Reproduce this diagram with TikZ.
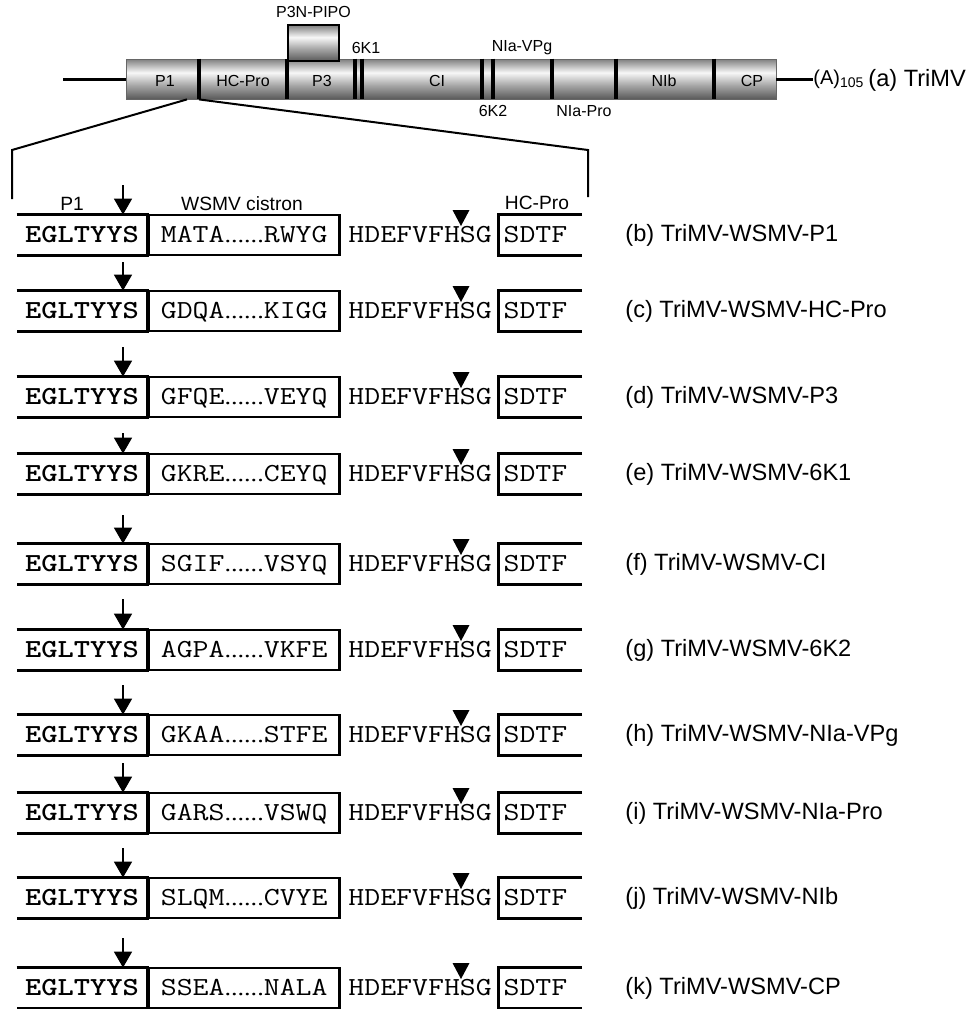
\documentclass[tikz,border=0pt]{standalone}
\usepackage{fontspec}
\setmainfont{Liberation Sans}
\newfontfamily\dotfont{Liberation Serif}
\usetikzlibrary{arrows.meta,positioning}

\pgfdeclareverticalshading{tube}{100bp}{color(0bp)=(black!65); color(25bp)=(black!65); color(42bp)=(black!35); color(58bp)=(black!3); color(75bp)=(black!50); color(100bp)=(black!50)}
\newcommand{\seqdots}{{\dotfont\fontsize{11}{13}\selectfont......}}
\newcommand{\seqtxt}[1]{\scalebox{1.19}[1]{#1}}

\begin{document}
\begin{tikzpicture}[x=0.5pt, y=-0.5pt,
  seg/.style={shading=tube, draw=black!60, line width=0.4pt, inner sep=0pt},
  divider/.style={line width=1.6pt},
  tail/.style={line width=1.5pt},
  glbl/.style={font=\fontsize{8}{9.6}\selectfont, inner sep=0pt},
  hdr/.style={font=\fontsize{9.6}{11.5}\selectfont, inner sep=0pt},
  seq/.style={font=\ttfamily\fontsize{13}{16}\selectfont, inner sep=0pt, text height=7.8pt, text depth=0pt},
  seqbold/.style={seq, font=\ttfamily\bfseries\fontsize{13}{16}\selectfont},
  cbox/.style={seq, draw, line width=1.3pt, minimum width=95.5pt, minimum height=20pt},
  frame/.style={line width=1.3pt},
  rowlbl/.style={font=\fontsize{11.8}{14}\selectfont, inner sep=0pt, anchor=west},
  cut/.style={line width=0.8pt, -{Triangle[width=9pt,length=8pt]}},
  site/.style={fill=black},
  zoomline/.style={line width=1pt}
]
  \useasboundingbox (0,0) rectangle (971,1009);

  %% Genome of TriMV
  \node[seg, minimum width=325pt, minimum height=20pt] (genome) at (451,79) {};
  \foreach \x in {199,287,355,362,482,493,552,616,714}
    \draw[divider] (\x,0 |- genome.north) -- (\x,0 |- genome.south);
  \node[seg, draw=black, line width=1.1pt, minimum width=25.5pt, minimum height=18pt] (pipo) at (313.5,43) {};
  \node[glbl, above=3pt of pipo] (pipolbl) {P3N-PIPO};

  \node[glbl] (gP1)  at (165,81) {P1};
  \node[glbl] (gHC)  at (243,81) {HC-Pro};
  \node[glbl] (gP3)  at (322,81) {P3};
  \node[glbl] (gCI)  at (437,81) {CI};
  \node[glbl] (gNIb) at (664,81) {NIb};
  \node[glbl] (gCP)  at (752,81) {CP};
  \node[glbl] (g6K1) at (366,48) {6K1};
  \node[glbl] (gVPg) at (522,48) {NIa-VPg};
  \node[glbl] (g6K2) at (493,111) {6K2};
  \node[glbl] (gPro) at (584,111) {NIa-Pro};

  %% Tails and poly(A)
  \coordinate (lend) at (63,79);
  \draw[tail] (lend) -- (genome.west);
  \node[anchor=west, inner sep=0pt, font=\fontsize{10}{12}\selectfont] (polyA) at (813,79) {(A)\textsubscript{105}};
  \draw[tail] (genome.east) -- (genome.east -| polyA.west);
  \node[rowlbl] (trimv) at (868,80) {(a) TriMV};

  %% Expanded P1/HC-Pro junction
  \coordinate (zl1) at (12,150);
  \coordinate (zl2) at (12,199);
  \coordinate (zr1) at (588,150);
  \coordinate (zr2) at (588,197);
  \draw[zoomline] (187,0 |- genome.south) -- (zl1) -- (zl2);
  \draw[zoomline] (199,0 |- genome.south) -- (zr1) -- (zr2);

  \node[hdr] (hP1) at (72,204) {P1};
  \node[hdr] (hWS) at (242,204) {WSMV cistron};
  \node[hdr] (hHC) at (537,203) {HC-Pro};

  %% Chimeric constructs
  \foreach \row/\ytop/\sqa/\sqz/\cis/\alen in {
      b/215/MATA/RWYG/P1/30, c/291/GDQA/KIGG/HC-Pro/29,
      d/377/GFQE/VEYQ/P3/30, e/454/GKRE/CEYQ/6K1/21,
      f/544/SGIF/VSYQ/CI/29, g/630/AGPA/VKFE/6K2/31,
      h/715/GKAA/STFE/NIa-VPg/30, i/793/GARS/VSWQ/NIa-Pro/30,
      j/878/SLQM/CVYE/NIb/30, k/968/SSEA/NALA/CP/30}
  {
    \node[seqbold, minimum width=65pt, minimum height=20pt] (p1\row) at (82,\ytop+20) {\seqtxt{EGLTYYS}};
    \draw[frame] (p1\row.north west) -- (p1\row.north east) -- (p1\row.south east) -- (p1\row.south west);
    \node[cbox, right=0pt of p1\row] (ws\row) {\seqtxt{\sqa\seqdots\sqz}};
    \node[seq, right=3.5pt of ws\row] (hd\row) {\seqtxt{HDEFVFHSG}};
    \node[seq, right=3pt of hd\row, minimum height=20pt, inner xsep=2.5pt, text width=36.5pt, align=left] (hc\row) {\seqtxt{SDTF}};
    \draw[frame] (hc\row.north east) -- (hc\row.north west) -- (hc\row.south west) -- (hc\row.south east);
    \fill[site] (452.5,\ytop-5) -- (469.5,\ytop-5) -- (461,\ytop+11) -- cycle;
    \coordinate (ct\row) at (123,\ytop-\alen);
    \draw[cut] (ct\row) -- (ct\row |- p1\row.north);
    \node[rowlbl] (lbl\row) at (625,\ytop+20) {(\row) TriMV-WSMV-\cis};
  }
\end{tikzpicture}
\end{document}
